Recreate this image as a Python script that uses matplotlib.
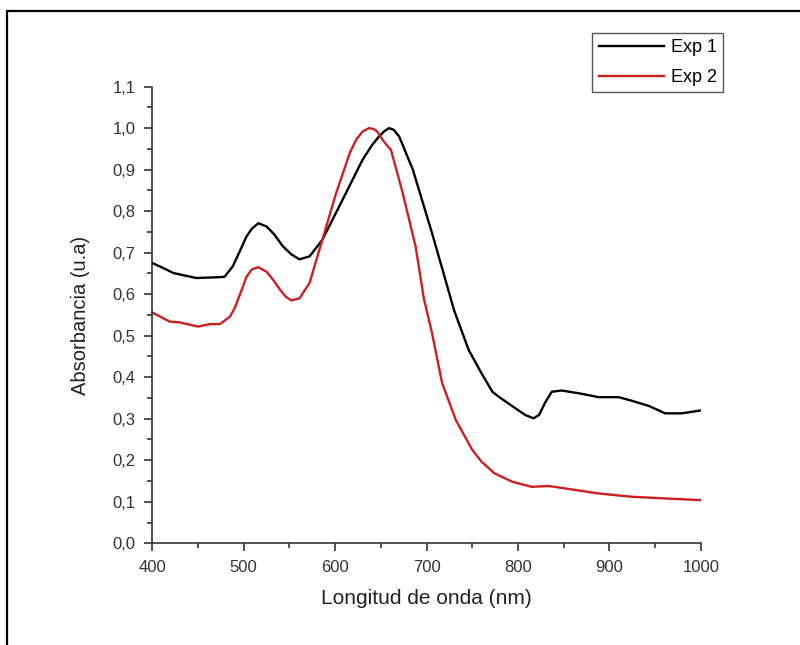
import numpy as np
import matplotlib
matplotlib.use('Agg')
import matplotlib.pyplot as plt
from matplotlib.ticker import MultipleLocator, FuncFormatter
from matplotlib.patches import Rectangle

# Exp 1 (black)
wl1 = [400, 412, 423, 448, 474, 479, 488, 496, 503, 509, 516, 525, 533, 543, 552,
       561, 572, 586, 608, 630, 640, 648, 654, 659, 664, 670, 685, 706, 718, 730,
       746, 760, 772, 779, 792, 808, 817, 823, 830, 837, 848, 870, 888, 910, 925,
       943, 961, 979, 1000]
abs1 = [0.675, 0.663, 0.651, 0.639, 0.641, 0.642, 0.667, 0.705, 0.739, 0.758, 0.771,
        0.763, 0.745, 0.715, 0.696, 0.684, 0.691, 0.731, 0.827, 0.924, 0.958, 0.980,
        0.993, 1.000, 0.996, 0.980, 0.900, 0.747, 0.655, 0.562, 0.466, 0.410, 0.365,
        0.353, 0.333, 0.309, 0.301, 0.309, 0.340, 0.365, 0.368, 0.360, 0.352, 0.352,
        0.343, 0.331, 0.313, 0.313, 0.320]

# Exp 2 (red)
wl2 = [400, 405, 419, 430, 450, 463, 474, 485, 490, 496, 503, 509, 516, 525, 532,
       540, 546, 552, 561, 572, 586, 601, 616, 623, 630, 637, 642, 646, 651, 656,
       661, 674, 688, 697, 706, 717, 732, 750, 760, 774, 794, 815, 834, 852, 888,
       925, 961, 1000]
abs2 = [0.556, 0.550, 0.534, 0.532, 0.522, 0.528, 0.528, 0.546, 0.566, 0.600, 0.642,
        0.660, 0.665, 0.654, 0.635, 0.610, 0.594, 0.585, 0.590, 0.627, 0.731, 0.843,
        0.940, 0.972, 0.992, 1.000, 0.998, 0.992, 0.975, 0.960, 0.948, 0.843, 0.715,
        0.590, 0.506, 0.386, 0.297, 0.225, 0.197, 0.169, 0.148, 0.136, 0.138, 0.132,
        0.120, 0.112, 0.108, 0.104]

plt.rcParams['font.family'] = ['Liberation Sans', 'DejaVu Sans']

fig = plt.figure(figsize=(8, 6.45), dpi=100)
ax = fig.add_axes([0.1904, 0.1577, 0.6856, 0.708])

ax.plot(wl1, abs1, color='black', lw=1.7, label='Exp 1')
ax.plot(wl2, abs2, color='#cc1f1f', lw=1.7, label='Exp 2')

ax.set_xlim(400, 1000)
ax.set_ylim(0, 1.1)
ax.xaxis.set_major_locator(MultipleLocator(100))
ax.xaxis.set_minor_locator(MultipleLocator(50))
ax.yaxis.set_major_locator(MultipleLocator(0.1))
ax.yaxis.set_minor_locator(MultipleLocator(0.05))
ax.yaxis.set_major_formatter(FuncFormatter(lambda v, p: f'{v:.1f}'.replace('.', ',')))

for s in ['top', 'right']:
    ax.spines[s].set_visible(False)
for s in ['left', 'bottom']:
    ax.spines[s].set_color('#333333')
    ax.spines[s].set_linewidth(1.2)
ax.tick_params(which='both', direction='out', color='#333333', width=1.2,
               labelsize=12, labelcolor='#333333')
ax.tick_params(which='major', length=6, pad=6)
ax.tick_params(which='minor', length=3.5)

ax.set_xlabel('Longitud de onda (nm)', fontsize=15, color='#222222', labelpad=10)
ax.set_ylabel('Absorbancia (u.a)', fontsize=14.5, color='#222222')
ax.yaxis.set_label_coords(-0.113, 0.5)

fig.legend(loc='upper right', bbox_to_anchor=(0.904, 0.949), fontsize=13,
           fancybox=False, edgecolor='#555555', framealpha=1, handlelength=3.6,
           borderpad=0.35, labelspacing=0.7, handletextpad=0.4, borderaxespad=0)

fig.patches.append(Rectangle((7 / 800, -0.1), 1.2, 1 - 11 / 645 + 0.1,
                             transform=fig.transFigure, fill=False,
                             edgecolor='black', lw=1.6))

fig.savefig('out.png', dpi=100)
